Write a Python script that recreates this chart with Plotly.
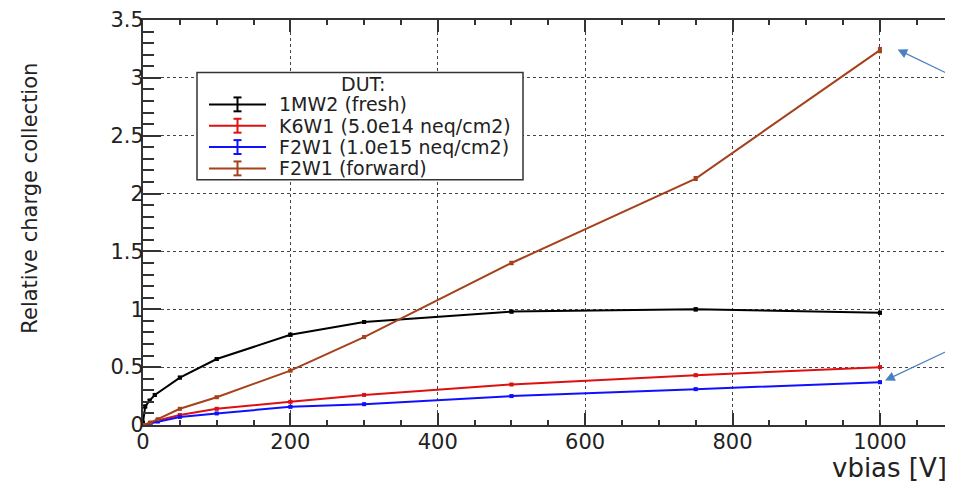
import plotly.graph_objects as go

# ---- data ----
x_fresh = [0, 3, 9, 16, 50, 100, 200, 300, 500, 750, 1000]
y_fresh = [0.02, 0.16, 0.21, 0.26, 0.41, 0.57, 0.78, 0.89, 0.98, 1.0, 0.97]
e_fresh = [0.01, 0.01, 0.01, 0.01, 0.01, 0.01, 0.01, 0.01, 0.01, 0.012, 0.01]

x_k6w1 = [0, 10, 20, 50, 100, 200, 300, 500, 750, 1000]
y_k6w1 = [0.0, 0.02, 0.04, 0.086, 0.14, 0.2, 0.26, 0.35, 0.43, 0.5]
e_k6w1 = [0.005, 0.005, 0.005, 0.005, 0.006, 0.006, 0.006, 0.007, 0.008, 0.01]

x_f2w1 = [0, 10, 20, 50, 100, 200, 300, 500, 750, 1000]
y_f2w1 = [0.0, 0.015, 0.03, 0.07, 0.1, 0.157, 0.18, 0.25, 0.31, 0.37]
e_f2w1 = [0.005, 0.005, 0.005, 0.005, 0.005, 0.005, 0.006, 0.006, 0.006, 0.007]

x_fwd = [0, 10, 20, 50, 100, 200, 300, 500, 750, 1000]
y_fwd = [0.0, 0.02, 0.05, 0.14, 0.24, 0.47, 0.76, 1.4, 2.13, 3.24]
e_fwd = [0.005, 0.005, 0.005, 0.006, 0.006, 0.008, 0.01, 0.012, 0.015, 0.02]

names = ["1MW2 (fresh)", "K6W1 (5.0e14 neq/cm2)", "F2W1 (1.0e15 neq/cm2)", "F2W1 (forward)"]
colors = ["#000000", "#dd1111", "#1010ff", "#a5411b"]
legend_title = "DUT:"

x_ticks = [0, 200, 400, 600, 800, 1000]
y_ticks = [0, 0.5, 1, 1.5, 2, 2.5, 3, 3.5]
y_ticktext = ["0", "0.5", "1", "1.5", "2", "2.5", "3", "3.5"]

FONT = "DejaVu Sans"
TXT = "#222222"

fig = go.Figure()
series = [(x_fresh, y_fresh, e_fresh), (x_k6w1, y_k6w1, e_k6w1),
          (x_f2w1, y_f2w1, e_f2w1), (x_fwd, y_fwd, e_fwd)]
for (xs, ys, es), n, c in zip(series, names, colors):
    fig.add_trace(go.Scatter(
        x=xs, y=ys, name=n, mode="lines+markers", showlegend=False,
        line=dict(color=c, width=2),
        marker=dict(symbol="square", size=4, color=c),
        error_y=dict(type="data", array=es, visible=True, color=c, thickness=1.5, width=2),
    ))

grid = dict(showgrid=True, gridcolor="#444444", griddash="dot", gridwidth=1)

fig.update_layout(
    width=953, height=482,
    margin=dict(l=135, r=0, t=9, b=65),
    paper_bgcolor="white", plot_bgcolor="white",
    font=dict(family=FONT, color=TXT),
    showlegend=False,
    xaxis=dict(
        range=[0, 1110], tickvals=x_ticks, ticktext=[str(v) for v in x_ticks],
        ticks="inside", ticklen=12, tickwidth=1.5, tickcolor="#333333",
        minor=dict(ticks="inside", ticklen=5, dtick=50, tick0=0, tickcolor="#333333", showgrid=False),
        showline=True, linecolor="#333333", linewidth=2, mirror="ticks",
        tickfont=dict(family=FONT, size=21, color=TXT), ticklabelstandoff=-3,
        ticklabeloverflow="allow",
        zeroline=False, **grid,
    ),
    yaxis=dict(
        range=[0, 3.5001], tickvals=y_ticks, ticktext=y_ticktext,
        ticks="inside", ticklen=18, tickwidth=1.5, tickcolor="#333333",
        minor=dict(ticks="inside", ticklen=11, dtick=0.1, tick0=0, tickcolor="#333333", showgrid=False),
        showline=True, linecolor="#333333", linewidth=2, mirror=False,
        tickfont=dict(family=FONT, size=21, color=TXT), ticklabelstandoff=-7,
        ticklabeloverflow="allow",
        zeroline=False, **grid,
    ),
)

# ---- legend box drawn in paper coordinates (ROOT-style TLegend) ----
def px(wx):
    return (wx - 143) / 818.0

def py(wy):
    return (425 - wy) / 408.0

fig.add_shape(type="rect", xref="paper", yref="paper",
              x0=px(197), x1=px(523), y0=py(178), y1=py(70),
              fillcolor="white", line=dict(color="#333333", width=1.5), layer="above")
fig.add_annotation(text=legend_title, xref="paper", yref="paper", x=px(363), y=py(81),
                   xanchor="center", yanchor="middle", showarrow=False,
                   font=dict(family=FONT, size=19, color=TXT))
row_y = [102, 123.5, 145, 166.5]
for n, c, wy in zip(names, colors, row_y):
    fig.add_shape(type="line", xref="paper", yref="paper",
                  x0=px(209), x1=px(266), y0=py(wy), y1=py(wy),
                  line=dict(color=c, width=2), layer="above")
    fig.add_shape(type="line", xref="paper", yref="paper",
                  x0=px(237.5), x1=px(237.5), y0=py(wy + 7), y1=py(wy - 7),
                  line=dict(color=c, width=2), layer="above")
    for d in (-7, 7):
        fig.add_shape(type="line", xref="paper", yref="paper",
                      x0=px(233.5), x1=px(241.5), y0=py(wy + d), y1=py(wy + d),
                      line=dict(color=c, width=2), layer="above")
    fig.add_annotation(text=n, xref="paper", yref="paper", x=px(277), y=py(wy),
                       xanchor="left", yanchor="middle", showarrow=False,
                       font=dict(family=FONT, size=19, color=TXT))

# ---- y-axis top label (ROOT draws it at the frame corner) ----
# ---- axis titles ----
fig.add_annotation(text="Relative charge collection", textangle=-90,
                   xref="paper", yref="paper", x=px(30), y=py(197),
                   xanchor="center", yanchor="middle",
                   showarrow=False, font=dict(family=FONT, size=21, color=TXT))
fig.add_annotation(text="vbias [V]", xref="paper", yref="paper", x=px(949), y=py(468),
                   xanchor="right", yanchor="middle", showarrow=False,
                   font=dict(family=FONT, size=26, color=TXT))

# ---- arrows pointing at the end points ----
arrow_color = "#4a7fc1"
fig.add_annotation(x=1024, y=3.245, xref="x", yref="y", ax=58, ay=28, axref="pixel", ayref="pixel",
                   text="", showarrow=True, arrowhead=2, arrowsize=1.6, arrowwidth=1.2,
                   arrowcolor=arrow_color)
fig.add_annotation(x=1007, y=0.385, xref="x", yref="y", ax=70, ay=-33, axref="pixel", ayref="pixel",
                   text="", showarrow=True, arrowhead=2, arrowsize=1.6, arrowwidth=1.2,
                   arrowcolor=arrow_color)

fig.write_html("out.html")
